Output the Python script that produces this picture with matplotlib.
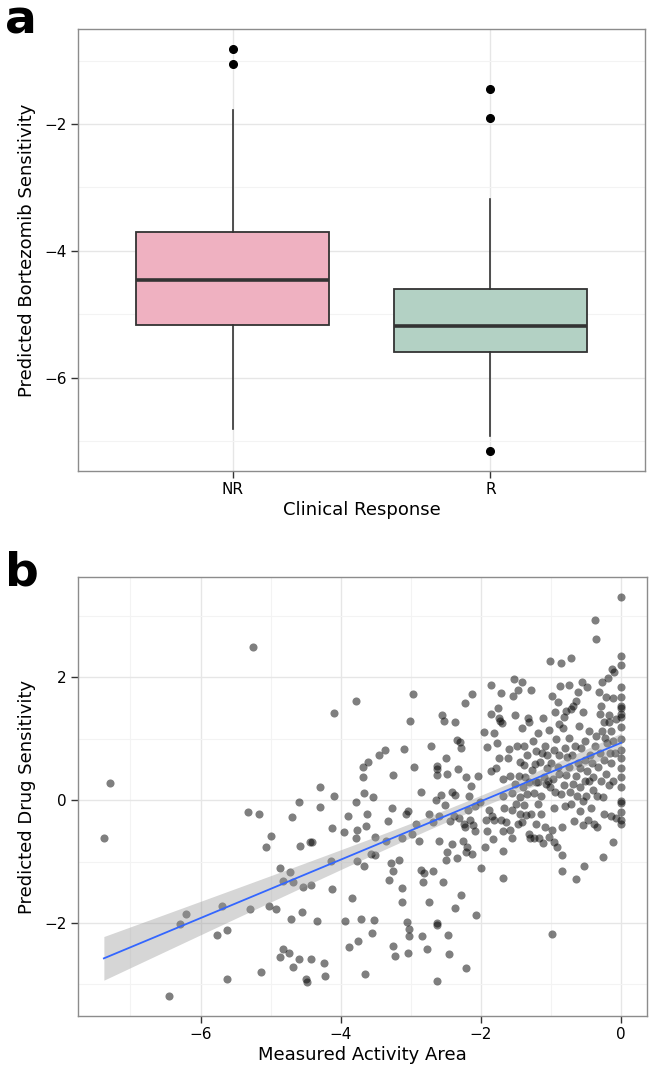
import numpy as np
import matplotlib
matplotlib.use("Agg")
import matplotlib.pyplot as plt

# ---- panel a: box plot summaries ----
groups = ["NR", "R"]
box_q1 = [-5.17, -5.59]
box_med = [-4.46, -5.18]
box_q3 = [-3.70, -4.60]
whisk_lo = [-6.80, -6.91]
whisk_hi = [-1.78, -3.18]
outliers = [[-0.82, -1.06], [-1.45, -1.91, -7.15]]
box_colors = ["#EFB1C1", "#B3D1C4"]

# ---- panel b: measured activity area vs predicted sensitivity ----
act_x = [
    -7.38, -7.29, -6.45, -6.30, -6.21, -5.76, -5.69, -5.63, -5.62, -5.33,
    -5.25, -5.16, -5.30, -5.14, -5.07, -5.00, -5.02, -4.93, -4.87, -4.87,
    -4.82, -4.82, -4.73, -4.74, -4.71, -4.68, -4.68, -4.70, -4.60, -4.59,
    -4.58, -4.55, -4.54, -4.49, -4.48, -4.44, -4.43, -4.42, -4.41, -4.34,
    -4.30, -4.30, -4.24, -4.22, -4.14, -4.12, -4.13, -4.09, -4.09, -3.94,
    -3.96, -3.90, -3.88, -3.84, -3.78, -3.78, -3.78, -3.77, -3.75, -3.77,
    -3.69, -3.69, -3.67, -3.67, -3.71, -3.66, -3.62, -3.64, -3.61, -3.57,
    -3.55, -3.54, -3.53, -3.51, -3.51, -3.46, -3.37, -3.35, -3.33, -3.31,
    -3.29, -3.27, -3.25, -3.26, -3.25, -3.23, -3.17, -3.13, -3.12, -3.12,
    -3.10, -3.07, -3.06, -3.03, -3.04, -3.02, -3.04, -3.01, -2.97, -2.95,
    -2.98, -2.92, -2.88, -2.86, -2.85, -2.84, -2.82, -2.81, -2.77, -2.74,
    -2.74, -2.71, -2.69, -2.68, -2.64, -2.63, -2.63, -2.63, -2.62, -2.62,
    -2.60, -2.62, -2.60, -2.57, -2.56, -2.54, -2.53, -2.52, -2.50, -2.50,
    -2.48, -2.48, -2.47, -2.46, -2.44, -2.42, -2.41, -2.38, -2.37, -2.37,
    -2.37, -2.34, -2.34, -2.33, -2.32, -2.30, -2.29, -2.28, -2.26, -2.24,
    -2.23, -2.22, -2.23, -2.21, -2.21, -2.20, -2.18, -2.17, -2.16, -2.14,
    -2.13, -2.13, -2.11, -2.09, -2.08, -2.07, -2.04, -2.02, -2.00, -1.95,
    -1.94, -1.93, -1.92, -1.91, -1.88, -1.86, -1.86, -1.85, -1.84, -1.83,
    -1.81, -1.81, -1.79, -1.77, -1.76, -1.74, -1.74, -1.73, -1.72, -1.71,
    -1.70, -1.69, -1.69, -1.69, -1.68, -1.68, -1.67, -1.64, -1.62, -1.60,
    -1.59, -1.58, -1.56, -1.56, -1.55, -1.54, -1.53, -1.52, -1.51, -1.50,
    -1.49, -1.47, -1.47, -1.46, -1.45, -1.44, -1.44, -1.42, -1.42, -1.41,
    -1.40, -1.39, -1.39, -1.38, -1.37, -1.36, -1.34, -1.34, -1.33, -1.32,
    -1.31, -1.31, -1.30, -1.28, -1.28, -1.27, -1.26, -1.25, -1.24, -1.23,
    -1.22, -1.22, -1.21, -1.19, -1.19, -1.18, -1.17, -1.16, -1.15, -1.14,
    -1.13, -1.12, -1.11, -1.10, -1.09, -1.08, -1.07, -1.06, -1.06, -1.05,
    -1.03, -1.03, -1.02, -1.02, -1.00, -0.99, -0.99, -0.98, -0.97, -0.96,
    -0.96, -0.96, -0.95, -0.94, -0.93, -0.92, -0.90, -0.90, -0.89, -0.89,
    -0.89, -0.87, -0.86, -0.86, -0.85, -0.85, -0.85, -0.83, -0.82, -0.81,
    -0.80, -0.80, -0.78, -0.78, -0.77, -0.75, -0.75, -0.74, -0.73, -0.72,
    -0.71, -0.71, -0.70, -0.69, -0.68, -0.67, -0.66, -0.65, -0.64, -0.64,
    -0.63, -0.62, -0.61, -0.60, -0.59, -0.59, -0.58, -0.57, -0.56, -0.55,
    -0.55, -0.54, -0.53, -0.52, -0.52, -0.51, -0.50, -0.49, -0.48, -0.47,
    -0.46, -0.46, -0.44, -0.43, -0.42, -0.40, -0.40, -0.39, -0.38, -0.37,
    -0.36, -0.36, -0.35, -0.34, -0.33, -0.31, -0.30, -0.30, -0.29, -0.29,
    -0.27, -0.27, -0.26, -0.26, -0.25, -0.24, -0.24, -0.23, -0.22, -0.22,
    -0.20, -0.19, -0.18, -0.18, -0.17, -0.16, -0.15, -0.15, -0.14, -0.13,
    -0.12, -0.12, -0.11, -0.11, -0.10, -0.09, -0.08, -0.08,
    0.0, 0.0, 0.0, 0.0, 0.0, 0.0, 0.0, 0.0, 0.0, 0.0,
    0.0, 0.0, 0.0, 0.0, 0.0, 0.0, 0.0, 0.0, 0.0, 0.0, 0.0,
]
pred_y = [
    -0.62, 0.28, -3.19, -2.02, -1.86, -2.19, -1.73, -2.12, -2.91, -0.19,
    2.50, -0.22, -1.77, -2.80, -0.76, -0.59, -1.72, -1.77, -1.11, -2.56,
    -2.42, -1.32, -1.17, -2.49, -1.94, -2.71, -1.33, -0.27, -2.59, -0.03,
    -0.74, -1.82, -1.42, -2.92, -2.96, -0.68, -2.59, -1.38, -0.68, -1.97,
    0.21, -0.11, -2.65, -2.86, -0.99, -1.44, -0.46, 1.42, 0.07, -1.97,
    -0.52, -0.26, -2.39, -1.59, 1.62, -0.03, -0.61, -0.48, -2.29, -0.99,
    0.38, 0.54, 0.11, -1.08, -1.93, -2.83, -0.23, -0.42, 0.63, -0.87,
    -2.16, 0.05, -1.95, -0.60, -0.90, 0.74, 0.81, -0.66, -0.34, -1.30,
    -1.02, -0.12, 0.41, -2.37, -1.15, -2.54, -0.97, -1.43, -1.66, -0.62,
    0.83, -0.22, -1.98, -2.10, -0.17, -2.22, -2.49, 1.29, 1.73, 0.54,
    -0.55, -0.38, -0.67, -1.13, 0.14, -2.21, -1.34, -1.18, -2.42, -0.22,
    -1.66, 0.89, -0.36, -1.15, 0.01, 0.55, 0.41, 0.50, -2.00, -2.94,
    -0.67, -2.03, -0.26, 0.08, 1.39, -1.34, 1.29, -0.08, -0.98, 0.69,
    0.43, -0.84, -2.20, -2.50, -0.34, -0.72, 0.14, -0.26, 0.08, -1.76,
    1.28, -0.94, 0.98, 0.51, -0.29, 0.94, 0.85, -1.55, -0.67, -0.39,
    1.59, -2.73, -0.44, -0.84, 0.37, -0.76, -0.16, 0.07, -0.33, 0.23,
    1.73, -0.87, -0.41, -0.51, -0.10, -1.87, 0.40, -0.03, -1.11, 1.11,
    -0.77, -0.33, 0.87, -0.50, -0.16, 1.87, 1.41, 0.47, -0.26, -0.63,
    1.10, -0.33, 0.52, 0.93, 1.50, 1.34, 0.68, 1.29, 1.74, -0.33,
    1.26, -1.27, -0.83, 0.34, -0.51, 0.07, -0.12, -0.36, 0.69, 0.84,
    0.39, -0.48, -0.62, 0.11, -0.16, 1.69, 1.98, 0.27, 1.38, -0.06,
    0.88, -0.38, 1.80, 0.39, 0.62, 0.06, -0.22, 1.17, 1.93, -0.36,
    0.22, 0.58, 0.88, -0.08, 0.38, -0.24, 0.10, 0.73, 1.34, 1.28,
    -0.55, 0.29, -0.62, 1.79, -0.23, 0.49, 0.96, -0.62, 0.12, 0.59,
    -0.38, 0.29, 0.80, 1.10, 0.29, -0.06, -0.62, 0.63, 0.07, -0.23,
    0.77, -0.69, 1.34, 0.38, -0.43, 0.89, 0.27, 0.52, 0.74, 0.32,
    -0.60, 1.14, 0.21, 2.26, 0.61, -0.48, -2.18, 1.70, 0.35, 0.82,
    -0.12, -0.68, 0.14, 1.44, 0.99, -0.77, 0.54, 1.60, 0.43, 1.24,
    0.74, 1.86, 2.24, 0.10, -0.89, -0.44, -1.16, 1.18, 1.36, 0.25,
    0.85, -0.09, 1.46, 0.41, 0.71, 1.87, 1.01, 0.54, 0.13, 2.31,
    1.48, -0.07, 0.74, 0.27, 1.54, -0.34, 0.88, -1.29, 0.39, 1.62,
    0.07, 0.61, 1.77, 1.21, 0.21, -0.18, 0.52, 0.85, 1.92, -0.40,
    1.43, -0.01, -1.07, 0.32, 0.66, 0.96, 0.07, 1.85, 0.48, -0.33,
    1.12, 0.32, 0.74, -0.12, 0.60, 0.38, 0.16, -0.38, 0.89, 2.94,
    2.62, 1.04, -0.43, 0.07, 0.54, 1.77, 1.41, 0.77, 1.54, 0.32,
    1.12, 1.93, 0.06, -0.93, 1.27, 0.66, -0.23, 1.02, 1.68, 0.43,
    0.93, 1.99, 1.27, 1.38, 0.24, 0.77, 1.13, -0.26, 0.60, 2.13,
    -0.68, 1.66, 0.97, 0.32, 2.08, 0.77, -0.29, 1.32,
    3.31, 2.35, 2.20, 1.85, 1.68, 1.54, 1.50, 1.40, 1.35, 1.19,
    0.99, 0.82, 0.68, 0.53, 0.38, 0.22, -0.01, -0.04, -0.19, -0.32, -0.38,
]

W, H = 654, 1079
fig = plt.figure(figsize=(W / 100, H / 100), dpi=100)

def px_axes(left, top, right, bottom):
    return fig.add_axes([left / W, 1 - bottom / H, (right - left) / W, (bottom - top) / H])

def bw_style(ax):
    ax.set_facecolor("white")
    for s in ax.spines.values():
        s.set_color("#8C8C8C")
        s.set_linewidth(1.0)
    ax.grid(True, which="major", color="#E6E6E6", linewidth=1.0)
    ax.grid(True, which="minor", color="#F3F3F3", linewidth=0.8)
    ax.set_axisbelow(True)
    ax.tick_params(which="major", direction="out", length=5, width=1.0,
                   color="#333333", labelsize=11, labelcolor="black", pad=3)
    ax.tick_params(which="minor", length=0)

# ---- panel a ----
ax1 = px_axes(78, 29, 645, 471)
bw_style(ax1)
stats = []
for i, g in enumerate(groups):
    stats.append(dict(label=g, med=box_med[i], q1=box_q1[i], q3=box_q3[i],
                      whislo=whisk_lo[i], whishi=whisk_hi[i], fliers=outliers[i]))
bp = ax1.bxp(stats, positions=[1, 2], widths=0.75, patch_artist=True,
             showcaps=False,
             boxprops=dict(edgecolor="#333333", linewidth=1.3),
             whiskerprops=dict(color="#333333", linewidth=1.2),
             medianprops=dict(color="#333333", linewidth=2.6),
             flierprops=dict(marker="o", markerfacecolor="black",
                             markeredgecolor="black", markersize=5.5))
for patch, c in zip(bp["boxes"], box_colors):
    patch.set_facecolor(c)
all_a = [v for v in whisk_lo + whisk_hi] + [v for o in outliers for v in o]
lo_a, hi_a = min(all_a), max(all_a)
pad_a = 0.05 * (hi_a - lo_a)
ax1.set_ylim(lo_a - pad_a, hi_a + pad_a)
ax1.set_xlim(0.4, 2.6)
ax1.set_xticks([1, 2])
ax1.set_xticklabels(groups)
ax1.set_yticks([-6, -4, -2])
ax1.set_yticklabels(["\u22126", "\u22124", "\u22122"])
ax1.set_yticks([-7, -5, -3, -1], minor=True)
ax1.xaxis.grid(True, which="major")
ax1.set_xlabel("Clinical Response", fontsize=13, labelpad=3)
ax1.set_ylabel("Predicted Bortezomib Sensitivity", fontsize=13, labelpad=6)

# ---- panel b ----
ax2 = px_axes(78, 577, 647, 1016)
bw_style(ax2)
xb = np.array(act_x)
yb = np.array(pred_y)
ax2.scatter(xb, yb, s=34, color="black", alpha=0.5, linewidths=0, zorder=3)

# linear fit with 95% confidence band, like geom_smooth(method = "lm")
slope, icpt = np.polyfit(xb, yb, 1)
n = len(xb)
resid = yb - (slope * xb + icpt)
sigma = np.sqrt(np.sum(resid ** 2) / (n - 2))
xs = np.linspace(xb.min(), xb.max(), 80)
se = sigma * np.sqrt(1.0 / n + (xs - xb.mean()) ** 2 / np.sum((xb - xb.mean()) ** 2))
fit = slope * xs + icpt
ax2.fill_between(xs, fit - 1.966 * se, fit + 1.966 * se, color="#999999",
                 alpha=0.4, linewidth=0, zorder=4)
ax2.plot(xs, fit, color="#3366FF", linewidth=1.3, zorder=5)

pad_x = 0.05 * (xb.max() - xb.min())
pad_y = 0.05 * (yb.max() - yb.min())
ax2.set_xlim(xb.min() - pad_x, xb.max() + pad_x)
ax2.set_ylim(yb.min() - pad_y, yb.max() + pad_y)
ax2.set_xticks([-6, -4, -2, 0])
ax2.set_xticklabels(["\u22126", "\u22124", "\u22122", "0"])
ax2.set_xticks([-7, -5, -3, -1], minor=True)
ax2.set_yticks([-2, 0, 2])
ax2.set_yticklabels(["\u22122", "0", "2"])
ax2.set_yticks([-3, -1, 1, 3], minor=True)
ax2.set_xlabel("Measured Activity Area", fontsize=13, labelpad=3)
ax2.set_ylabel("Predicted Drug Sensitivity", fontsize=13, labelpad=6)

fig.text(5 / W, 1 - 33 / H, "a", fontsize=34, fontweight="bold", va="baseline", ha="left")
fig.text(5 / W, 1 - 585 / H, "b", fontsize=34, fontweight="bold", va="baseline", ha="left")

fig.savefig("out.png", dpi=100)
